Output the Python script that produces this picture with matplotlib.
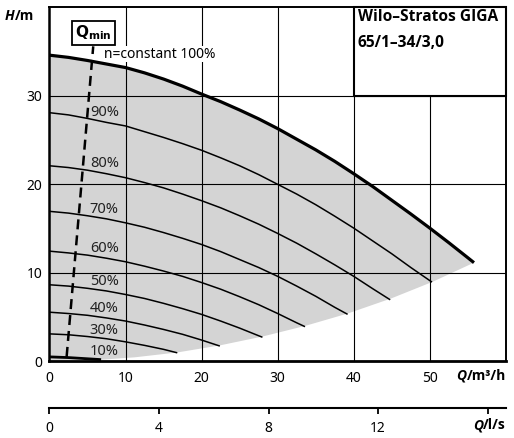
import numpy as np
import matplotlib
matplotlib.use('Agg')
import matplotlib.pyplot as plt
from matplotlib.patches import Rectangle

plt.rcParams['font.family'] = ['Noto Sans', 'DejaVu Sans']
BOLD = ['Open Sans', 'DejaVu Sans']

# pump curves, Q in m3/h, H in m
q100 = [0, 2.5, 5, 7.5, 10, 12.5, 15, 17.5, 20, 22.5, 25, 27.5, 30, 32.5, 35, 37.5, 40,
        42.5, 45, 47.5, 50, 52.5, 55, 55.8]
h100 = [34.6, 34.35, 34.0, 33.6, 33.2, 32.6, 31.9, 31.1, 30.2, 29.35, 28.4, 27.4, 26.3, 25.1,
        23.9, 22.6, 21.2, 19.75, 18.2, 16.65, 15.05, 13.4, 11.7, 11.15]
q90 = [0, 2.5, 5, 7.5, 10, 12.5, 15, 17.5, 20, 22.5, 25, 27.5, 30, 32.5, 35, 37.5, 40,
       42.5, 45, 47.5, 50.2]
h90 = [28.1, 27.85, 27.45, 27.0, 26.6, 25.95, 25.3, 24.6, 23.85, 23.0, 22.1, 21.1, 20.0,
       18.9, 17.7, 16.4, 15.05, 13.6, 12.15, 10.6, 9.0]
q80 = [0, 2.5, 5, 7.5, 10, 12.5, 15, 17.5, 20, 22.5, 25, 27.5, 30, 32.5, 35, 37.5, 40,
       42.5, 44.7]
h80 = [22.1, 21.9, 21.6, 21.2, 20.75, 20.2, 19.6, 18.9, 18.15, 17.35, 16.45, 15.5, 14.45,
       13.35, 12.15, 10.9, 9.6, 8.2, 7.0]
q70 = [0, 2.5, 5, 7.5, 10, 12.5, 15, 17.5, 20, 22.5, 25, 27.5, 30, 32.5, 35, 37.5, 39.1]
h70 = [16.95, 16.75, 16.45, 16.1, 15.65, 15.15, 14.55, 13.9, 13.2, 12.4, 11.5, 10.6, 9.6,
       8.5, 7.35, 6.1, 5.35]
q60 = [0, 2.5, 5, 7.5, 10, 12.5, 15, 17.5, 20, 22.5, 25, 27.5, 30, 32.5, 33.5]
h60 = [12.45, 12.25, 12.0, 11.65, 11.25, 10.75, 10.2, 9.6, 8.9, 8.15, 7.3, 6.4, 5.4, 4.35, 3.95]
q50 = [0, 2.5, 5, 7.5, 10, 12.5, 15, 17.5, 20, 22.5, 25, 27.9]
h50 = [8.65, 8.5, 8.25, 7.95, 7.55, 7.1, 6.55, 5.95, 5.3, 4.55, 3.75, 2.75]
q40 = [0, 2.5, 5, 7.5, 10, 12.5, 15, 17.5, 20, 22.3]
h40 = [5.55, 5.4, 5.2, 4.9, 4.55, 4.1, 3.6, 3.05, 2.4, 1.75]
q30 = [0, 2.5, 5, 7.5, 10, 12.5, 15, 16.7]
h30 = [3.1, 3.0, 2.8, 2.55, 2.2, 1.8, 1.35, 0.98]
q10 = [0, 2.5, 6.6]
h10 = [0.5, 0.42, 0.2]

# lower edge of the working range
qmax = [0, 5.6, 11.2, 16.8, 22.4, 28.0, 33.6, 39.2, 44.9, 50.4, 55.8]
hmax = [0, 0.11, 0.45, 1.0, 1.8, 2.8, 4.0, 5.4, 7.1, 9.0, 11.15]

# Qmin line
qmin_q = [2.25, 5.75]
qmin_h = [0.5, 35.6]

speeds = ['90%', '80%', '70%', '60%', '50%', '40%', '30%', '10%']
speed_h = [28.1, 22.4, 17.2, 12.7, 9.0, 6.0, 3.5, 1.15]

x_ticks = [0, 10, 20, 30, 40, 50]
y_ticks = [0, 10, 20, 30]
ls_ticks = [0, 4, 8, 12, 16]
ls_labels = ['0', '4', '8', '12', '']

fig = plt.figure(figsize=(5.14, 4.38), dpi=100)
ax = fig.add_axes([0.0963, 0.1751, 0.888, 0.808])
ax.set_xlim(0, 60)
ax.set_ylim(0, 40)

# grey area
ax.fill(np.concatenate([q100, qmax[::-1]]), np.concatenate([h100, hmax[::-1]]),
        color='#d4d4d4', lw=0, zorder=1)

for x in x_ticks[1:]:
    ax.axvline(x, color='black', lw=0.8, zorder=2)
for y in y_ticks[1:]:
    ax.axhline(y, color='black', lw=0.8, zorder=2)

ax.plot(q100, h100, color='black', lw=2.3, zorder=3, solid_capstyle='butt')
for q, h in [(q90, h90), (q80, h80), (q70, h70), (q60, h60), (q50, h50), (q40, h40), (q30, h30)]:
    ax.plot(q, h, color='black', lw=1.1, zorder=3)
ax.plot(q10, h10, color='black', lw=2.0, zorder=3)

ax.plot(qmin_q, qmin_h, color='black', lw=1.8, dashes=(4, 2.4), zorder=3)
ax.text(5.8, 37.1, r'$\mathbf{Q_{min}}$', ha='center', va='center', fontsize=11, zorder=6,
        bbox=dict(boxstyle='square,pad=0.2', fc='white', ec='black', lw=1.3))

ax.text(7.2, 34.7, 'n=constant 100%', fontsize=10, va='center', ha='left', zorder=5,
        bbox=dict(boxstyle='square,pad=0.05', fc='white', ec='none'))
for lab, h in zip(speeds, speed_h):
    ax.text(5.3, h, lab, fontsize=10.5, va='center', ha='left', color='#222222', zorder=5)

# title box
ax.add_patch(Rectangle((40, 30), 20, 10, fc='white', ec='black', lw=1.5, zorder=4, clip_on=False))
ax.text(40.5, 38.9, 'Wilo–Stratos GIGA', fontsize=11.2, family=BOLD, fontweight='bold', va='center', zorder=5)
ax.text(40.5, 36.0, '65/1–34/3,0', fontsize=11.2, family=BOLD, fontweight='bold', va='center', zorder=5)

for s in ax.spines.values():
    s.set_linewidth(1.4)
    s.set_zorder(6)
ax.spines['left'].set_linewidth(1.8)
ax.spines['bottom'].set_linewidth(2.0)

ax.set_xticks(x_ticks)
ax.set_yticks(y_ticks)
ax.tick_params(axis='x', length=0, pad=7, labelsize=10)
ax.tick_params(axis='y', length=0, pad=5, labelsize=10)

sec = ax.secondary_xaxis(-0.132, functions=(lambda q: q / 3.6, lambda l: l * 3.6))
sec.set_xticks(ls_ticks)
sec.set_xticklabels(ls_labels)
sec.spines['bottom'].set_linewidth(1.5)
sec.tick_params(direction='out', length=4, width=1.3, pad=5, labelsize=10)

# axis labels
hl = fig.text(5 / 514, 1 - 16 / 438, 'H', fontsize=10, family=BOLD, fontweight='bold', style='italic', va='center')
ax.annotate('/m', xy=(1, 0), xycoords=hl, fontsize=10, family=BOLD, fontweight='bold', va='bottom')

ql = fig.text(506 / 514, 1 - 376 / 438, '/m³/h', fontsize=10, family=BOLD, fontweight='bold', ha='right', va='center')
ax.annotate('Q', xy=(0, 0), xycoords=ql, fontsize=10, family=BOLD, fontweight='bold', style='italic',
            ha='right', va='bottom')
ls = fig.text(506 / 514, 1 - 425 / 438, '/l/s', fontsize=10, family=BOLD, fontweight='bold', ha='right', va='center')
ax.annotate('Q', xy=(0, 0), xycoords=ls, fontsize=10, family=BOLD, fontweight='bold', style='italic',
            ha='right', va='bottom')

fig.savefig('out.png', dpi=100)
